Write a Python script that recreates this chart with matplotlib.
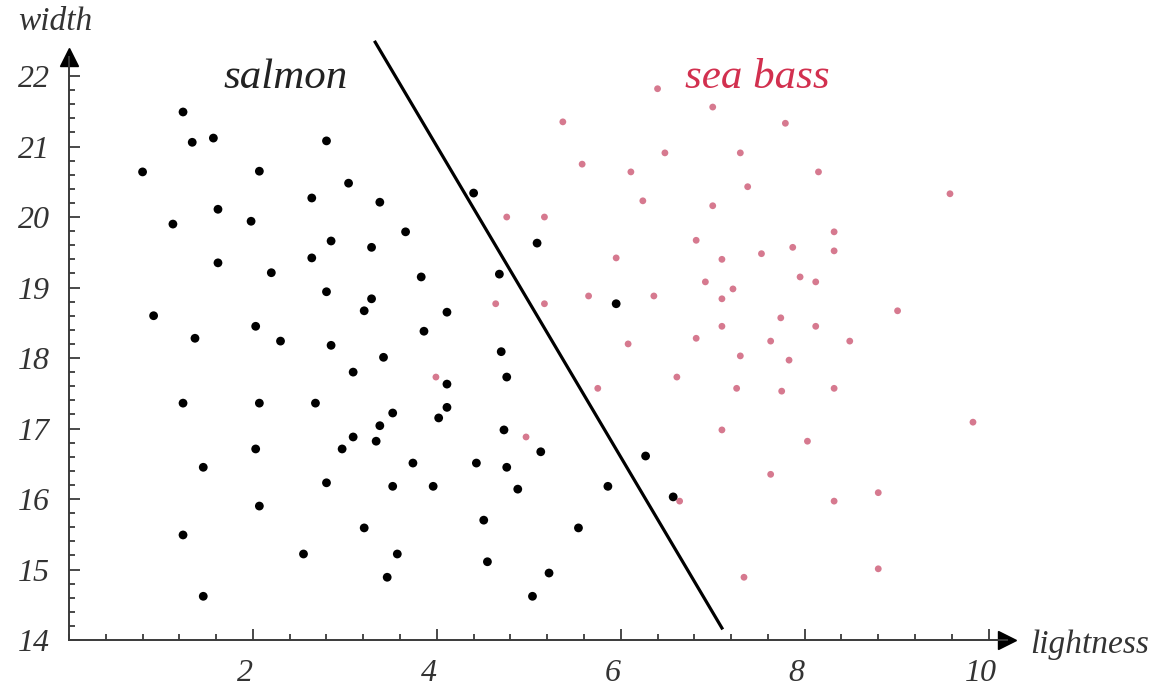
import matplotlib
matplotlib.use("Agg")
import matplotlib.pyplot as plt
import matplotlib.transforms as mtransforms
from matplotlib.ticker import MultipleLocator

# salmon samples (lightness, width)
salmon_x = [1.24, 1.34, 1.57, 2.80, 0.80, 2.07, 3.04, 2.64, 3.38, 1.62, 1.13, 1.98,
            2.85, 3.29, 2.64, 1.62, 2.20, 2.80, 3.29, 3.21, 0.92, 2.03, 1.37, 2.30,
            2.85, 3.42, 3.09, 1.24, 2.07, 2.68, 3.52, 3.38, 3.09, 3.34, 2.03, 2.97,
            1.46, 2.80, 3.52, 2.07, 1.24, 3.21, 2.55, 3.57, 3.46, 1.46, 4.40, 3.66,
            5.09, 3.83, 4.68, 5.95, 4.11, 3.86, 4.70, 4.76, 4.11, 4.11, 4.02, 4.73,
            5.13, 3.74, 4.43, 4.76, 3.96, 4.88, 6.27, 5.86, 6.57, 4.51, 5.54, 4.55,
            5.22, 5.04]
salmon_y = [21.49, 21.06, 21.12, 21.08, 20.64, 20.65, 20.48, 20.27, 20.21, 20.11, 19.90, 19.94,
            19.66, 19.57, 19.42, 19.35, 19.21, 18.94, 18.84, 18.67, 18.60, 18.45, 18.28, 18.24,
            18.18, 18.01, 17.80, 17.36, 17.36, 17.36, 17.22, 17.04, 16.88, 16.82, 16.71, 16.71,
            16.45, 16.23, 16.18, 15.90, 15.49, 15.59, 15.22, 15.22, 14.89, 14.62, 20.34, 19.79,
            19.63, 19.15, 19.19, 18.77, 18.65, 18.38, 18.09, 17.73, 17.63, 17.30, 17.15, 16.98,
            16.67, 16.51, 16.51, 16.45, 16.18, 16.14, 16.61, 16.18, 16.03, 15.70, 15.59, 15.11,
            14.95, 14.62]

# sea bass samples (lightness, width)
bass_x = [6.40, 7.00, 7.79, 5.37, 5.58, 6.48, 7.30, 6.11, 8.15, 7.38, 6.24, 7.00,
          9.58, 4.76, 5.17, 8.32, 6.82, 7.87, 8.32, 7.53, 5.95, 7.10, 7.95, 8.12,
          6.92, 7.22, 5.65, 6.36, 4.64, 5.17, 7.10, 9.01, 7.74, 7.10, 8.12, 6.82,
          6.08, 7.63, 8.49, 7.30, 7.83, 6.61, 3.99, 5.75, 7.26, 7.75, 8.32, 9.83,
          7.10, 8.03, 4.97, 7.63, 8.32, 8.80, 6.64, 7.34, 8.80]
bass_y = [21.82, 21.56, 21.33, 21.35, 20.75, 20.91, 20.91, 20.64, 20.64, 20.43, 20.23, 20.16,
          20.33, 20.00, 20.00, 19.79, 19.67, 19.57, 19.52, 19.48, 19.42, 19.40, 19.15, 19.08,
          19.08, 18.98, 18.88, 18.88, 18.77, 18.77, 18.84, 18.67, 18.57, 18.45, 18.45, 18.28,
          18.20, 18.24, 18.24, 18.03, 17.97, 17.73, 17.73, 17.57, 17.57, 17.53, 17.57, 17.09,
          16.98, 16.82, 16.88, 16.35, 15.97, 16.09, 15.97, 14.89, 15.01]

# decision boundary end points
boundary_x = [3.33, 7.10]
boundary_y = [22.48, 14.17]

x_ticks = [2, 4, 6, 8, 10]
y_ticks = [14, 15, 16, 17, 18, 19, 20, 21, 22]

SERIF = ["Liberation Serif", "DejaVu Serif"]
AXIS_COLOR = "#3a3a3a"

fig = plt.figure(figsize=(11.63, 7.0), dpi=100, facecolor="white")
ax = fig.add_axes([69 / 1163, 60 / 700, 938 / 1163, 583 / 700])
ax.set_xlim(0, 10.2)
ax.set_ylim(14, 22.27)

for side in ("top", "right"):
    ax.spines[side].set_visible(False)
for side in ("left", "bottom"):
    ax.spines[side].set_color(AXIS_COLOR)
    ax.spines[side].set_linewidth(1.4)

ax.set_xticks(x_ticks)
ax.set_yticks(y_ticks)
ax.xaxis.set_minor_locator(MultipleLocator(0.4))
ax.yaxis.set_minor_locator(MultipleLocator(0.2))
ax.tick_params(which="both", direction="in", color=AXIS_COLOR, width=1.3)
ax.tick_params(which="major", length=8)
ax.tick_params(which="minor", length=4.5)
ax.tick_params(axis="x", which="major", pad=14)
ax.tick_params(axis="y", which="major", pad=14)

# italic labels sit a little left of their ticks in the original
shift = mtransforms.ScaledTranslation(-8 / 100, 0, fig.dpi_scale_trans)
for lab in ax.get_xticklabels():
    lab.set_transform(lab.get_transform() + shift)
for lab in ax.get_xticklabels() + ax.get_yticklabels():
    lab.set_family(SERIF)
    lab.set_style("italic")
    lab.set_fontsize(23)
    lab.set_color("#333333")

# axis arrows
ax.plot(1, 0, ">", color="black", markersize=13, transform=ax.transAxes, clip_on=False)
ax.plot(0, 1, "^", color="black", markersize=13, transform=ax.transAxes, clip_on=False)

ax.scatter(bass_x, bass_y, s=24, color="#d6798f", edgecolors="none", zorder=3, clip_on=False)
ax.scatter(salmon_x, salmon_y, s=40, color="black", edgecolors="none", zorder=4, clip_on=False)
ax.plot(boundary_x, boundary_y, color="black", linewidth=2.3, zorder=5, clip_on=False)

ax.text(2.35, 21.97, "salmon", family=SERIF, style="italic", fontsize=31,
        color="#222222", ha="center", va="center")
ax.text(7.48, 21.97, "sea bass", family=SERIF, style="italic", fontsize=31,
        color="#d2304f", ha="center", va="center")
ax.text(-0.15, 22.77, "width", family=SERIF, style="italic", fontsize=24,
        color="#333333", ha="center", va="center", clip_on=False)
ax.text(10.45, 13.93, "lightness", family=SERIF, style="italic", fontsize=24,
        color="#333333", ha="left", va="center", clip_on=False)

fig.savefig("out.png", dpi=100, facecolor="white")
